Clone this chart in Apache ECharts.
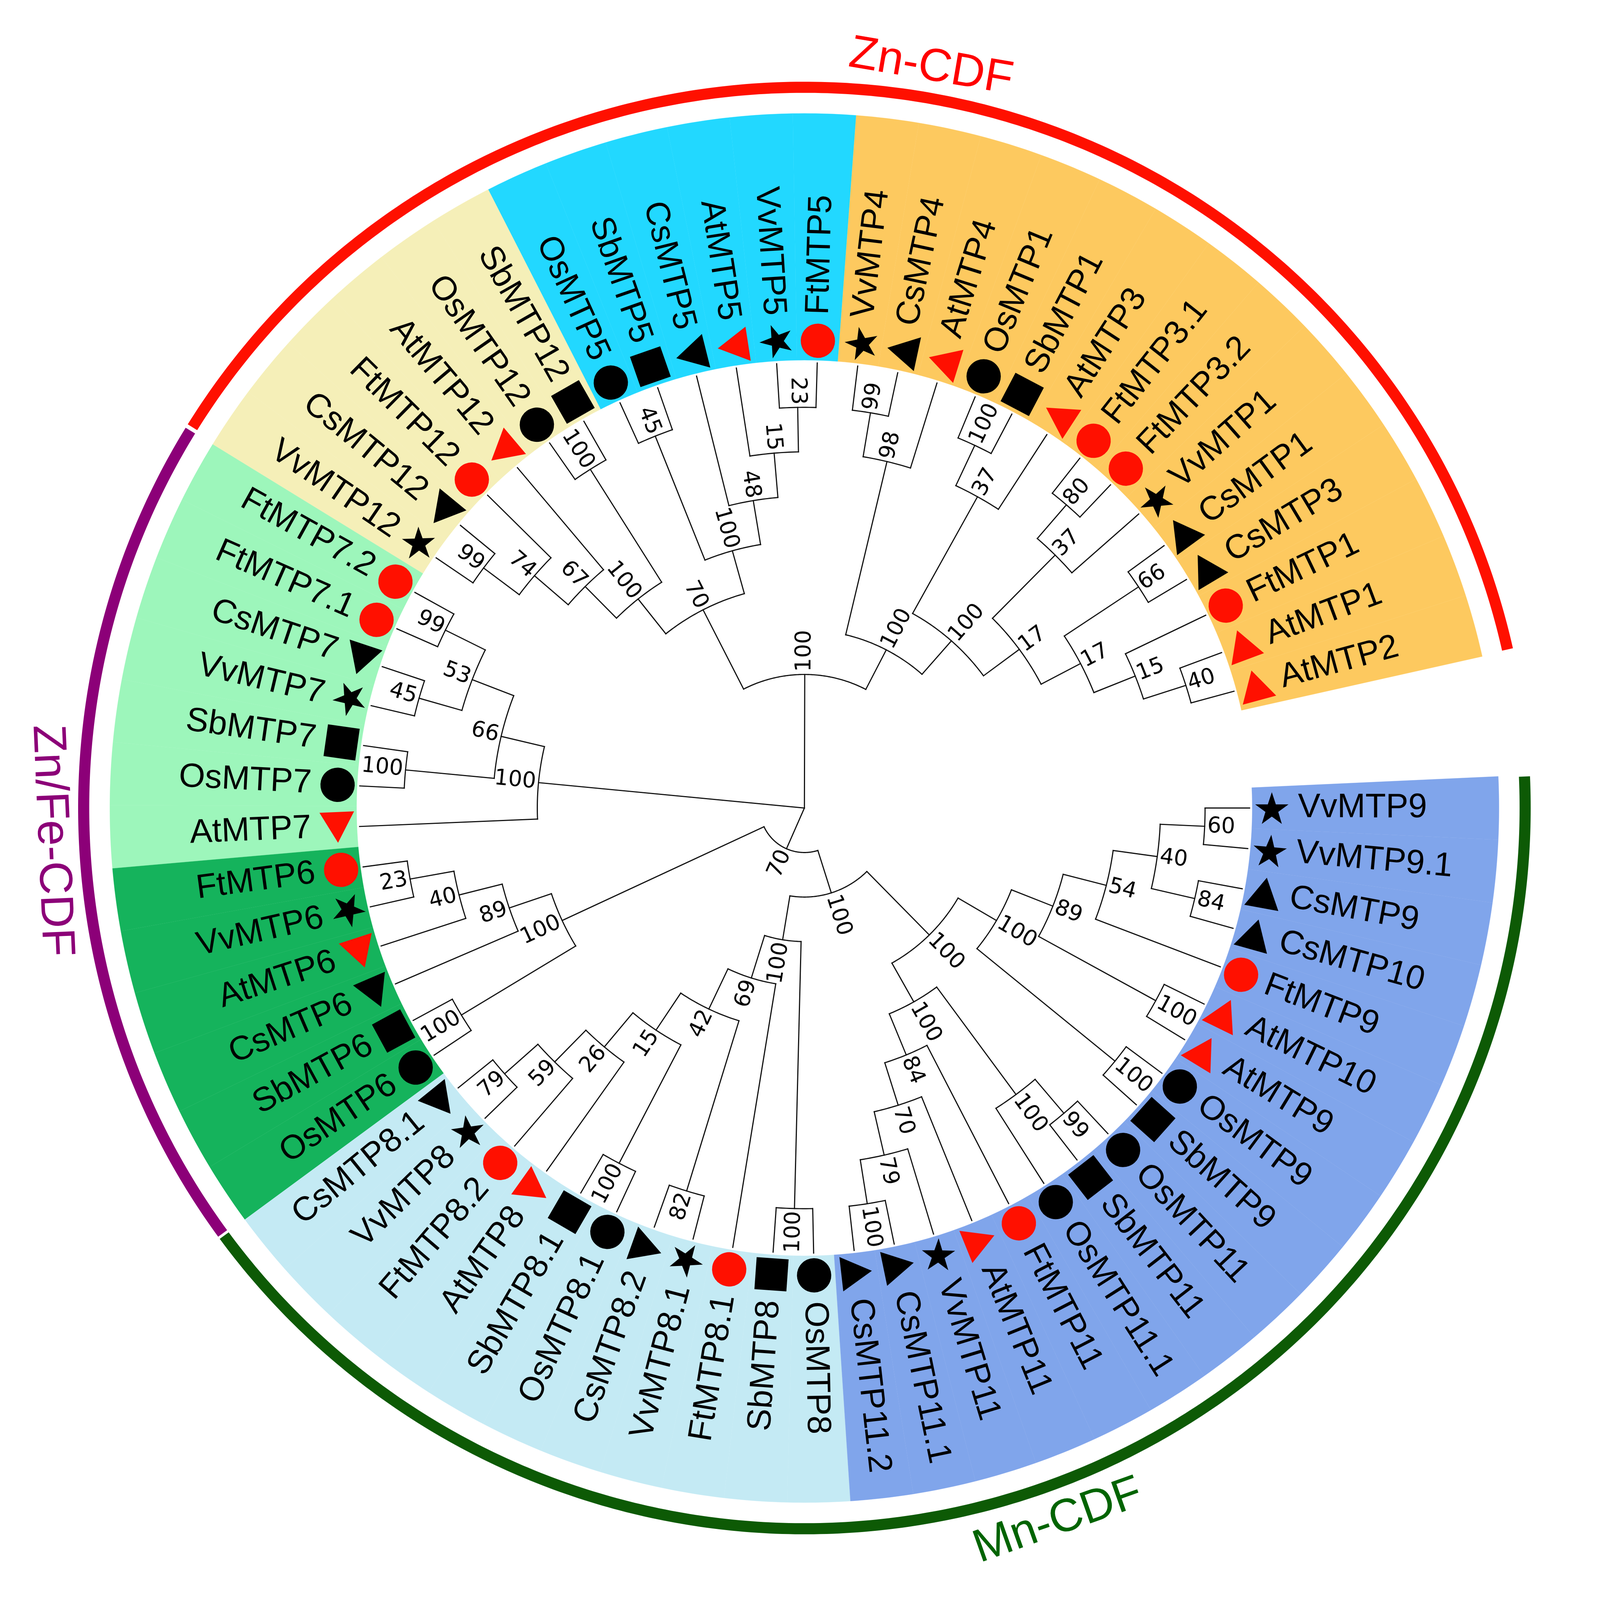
<!DOCTYPE html>
<html>
<head>
<meta charset="utf-8">
<title>MTP tree</title>
<style>
    html, body { margin: 0; padding: 0; background: #fff; width: 100%; height: 100%; overflow: hidden; }
    #chart { width: 100vw; height: 100vh; }
</style>
<script src="https://cdn.jsdelivr.net/npm/echarts@6/dist/echarts.min.js"></script>
</head>
<body>
<div id="chart"></div>
<script>
    // leaves, counted anticlockwise from AtMTP2
    var leafNames = [
        'AtMTP2', 'AtMTP1', 'FtMTP1', 'CsMTP3', 'CsMTP1', 'VvMTP1', 'FtMTP3.2', 'FtMTP3.1', 'AtMTP3', 'SbMTP1', 'OsMTP1', 'AtMTP4', 'CsMTP4', 'VvMTP4',
        'FtMTP5', 'VvMTP5', 'AtMTP5', 'CsMTP5', 'SbMTP5', 'OsMTP5',
        'SbMTP12', 'OsMTP12', 'AtMTP12', 'FtMTP12', 'CsMTP12', 'VvMTP12',
        'FtMTP7.2', 'FtMTP7.1', 'CsMTP7', 'VvMTP7', 'SbMTP7', 'OsMTP7', 'AtMTP7',
        'FtMTP6', 'VvMTP6', 'AtMTP6', 'CsMTP6', 'SbMTP6', 'OsMTP6',
        'CsMTP8.1', 'VvMTP8', 'FtMTP8.2', 'AtMTP8', 'SbMTP8.1', 'OsMTP8.1', 'CsMTP8.2', 'VvMTP8.1', 'FtMTP8.1', 'SbMTP8', 'OsMTP8',
        'CsMTP11.2', 'CsMTP11.1', 'VvMTP11', 'AtMTP11', 'FtMTP11', 'OsMTP11.1', 'SbMTP11', 'OsMTP11', 'SbMTP9', 'OsMTP9', 'AtMTP9', 'AtMTP10', 'FtMTP9', 'CsMTP10', 'CsMTP9', 'VvMTP9.1', 'VvMTP9'
    ];

    // first leaf of each coloured clade
    var cladeStarts = [0, 14, 20, 26, 33, 39, 50];
    var cladeColors = ['#FDC95F', '#22D8FF', '#F5EFB8', '#9DF6BB', '#15B35C', '#C4EAF4', '#80A5EB'];

    // outer family rings, in leaf positions
    var ringFrom = [-0.48, 25.50, 38.51];
    var ringTo = [25.44, 38.47, 66.48];
    var ringColors = ['#FF1000', '#8C0078', '#0D5A05'];

    // family titles
    var familyNames = ['Zn-CDF', 'Zn/Fe-CDF', 'Mn-CDF'];
    var familyPos = [12.46, 32.02, 52.52];
    var familyRadius = [2299, 2306, 2316];
    var familyColors = ['#FF0000', '#8C0078', '#006400'];

    // tree: [level, bootstrap, child, child...], a number child is a leaf index
    var cladeZn = [3, 100,
        [4, 100,
            [8, 98, 11, [9, 99, 12, 13]],
            [5, 100,
                [8, 37, 8, [9, 100, 9, 10]],
                [6, 17,
                    [8, 37, 5, [9, 80, 6, 7]],
                    [7, 17, [9, 66, 3, 4], [8, 15, 2, [9, 40, 0, 1]]]
                ]
            ]
        ],
        [5, 70,
            [6, 100,
                [7, 48, 17, [8, 15, 16, [9, 23, 14, 15]]],
                [9, 45, 18, 19]
            ],
            [6, 100,
                [9, 100, 20, 21],
                [7, 67, 22, [8, 74, 23, [9, 99, 24, 25]]]
            ]
        ]
    ];
    var cladeZnFe7 = [6, 100, 32,
        [7, 66,
            [9, 100, 30, 31],
            [8, 53, [9, 99, 26, 27], [9, 45, 28, 29]]
        ]
    ];
    var cladeMn = [1, 70,
        [6, 100,
            [7, 89, 36, [8, 40, 35, [9, 23, 33, 34]]],
            [9, 100, 37, 38]
        ],
        [2, 100,
            [3, 100,
                [9, 100, 48, 49],
                [4, 69, 47,
                    [5, 42,
                        [9, 82, 45, 46],
                        [6, 15,
                            [9, 100, 43, 44],
                            [7, 26, 42, [8, 59, 41, [9, 79, 39, 40]]]
                        ]
                    ]
                ]
            ],
            [4, 100,
                [5, 100,
                    [6, 89,
                        [7, 54, 62, [8, 40, [9, 60, 65, 66], [9, 84, 63, 64]]],
                        [9, 100, 60, 61]
                    ],
                    [9, 100, 58, 59]
                ],
                [5, 100,
                    [8, 100, 55, [9, 99, 56, 57]],
                    [6, 84, 54, [7, 70, 53, [8, 79, 52, [9, 100, 50, 51]]]]
                ]
            ]
        ]
    ];
    var treeRoot = [0, null, cladeZn, cladeZnFe7, cladeMn];

    // marker per species prefix
    var speciesCodes = ['Ft', 'Vv', 'At', 'Cs', 'Sb', 'Os'];
    var speciesSymbols = ['circle', 'star', 'triangle', 'triangle', 'rect', 'circle'];
    var speciesColors = ['#FF1000', '#000', '#FF1000', '#000', '#000', '#000'];

    // everything below was measured on the 4895 wide picture, S fits it to the window
    var S = Math.min(window.innerWidth / 4895, window.innerHeight / 4875);

    var STAR = 'path://M50 0 L61.8 35.1 L98.9 35.1 L68.8 56.7 L79.4 91 L50 70 L20.6 91 L31.2 56.7 L1.1 35.1 L38.2 35.1 Z';
    var symbolSizes = { circle: [105, 105], star: [102, 97], triangle: [106, 94], rect: [98, 98] };

    var startClock = 77.4;   // clock angle of the edge of leaf 0
    var leafStep = 5.224;    // degrees per leaf
    var levelStep = 136.2;   // units per tree level
    var tipLevel = 10;
    var sectorInner = 1370, sectorOuter = 2125;
    var ringInner = 2188, ringOuter = 2222;
    var markerRadius = 1430;
    var labelRadius = 1510;

    function px(v) { return v * S; }

    // flatten the tree to line pieces and bootstrap labels
    var branches = [], supports = [];
    function walk(node, parentR) {
        if (typeof node === 'number') {
            branches.push([parentR, node, tipLevel * levelStep, node]);
            return node;
        }
        var r = node[0] * levelStep, kids = node.slice(2), pos = [];
        for (var i = 0; i < kids.length; i++) pos.push(walk(kids[i], r));
        var lo = Math.min.apply(null, pos), hi = Math.max.apply(null, pos);
        var mid = (lo + hi) / 2;
        if (node[0] > 0) {
            branches.push([r, lo, r, hi]);
            branches.push([parentR, mid, r, mid]);
            supports.push([r, mid, node[1]]);
        }
        return mid;
    }
    walk(treeRoot, 0);

    // clock angle of a point, from the axis itself
    function clockOf(api, p, a) {
        var c = api.coord([0, a]);
        return Math.atan2(p[0] - c[0], c[1] - p[1]) * 180 / Math.PI;
    }

    // radial text, reads outward on the right half and inward on the left
    function radialText(api, r, a, text, font, gap) {
        var p = api.coord([r + gap, a]);
        var deg = clockOf(api, p, a);
        if (deg < 0) deg += 360;
        var right = deg < 180;
        return {
            type: 'text',
            x: p[0], y: p[1],
            rotation: (right ? 90 - deg : 270 - deg) * Math.PI / 180,
            style: { text: String(text), font: font, fill: '#000', align: right ? 'left' : 'right', verticalAlign: 'middle' }
        };
    }

    function band(api, r0, r1, a0, a1, color, seam) {
        var pts = [], n = Math.max(2, Math.ceil(Math.abs(a1 - a0) * leafStep * 2)), i;
        for (i = 0; i <= n; i++) pts.push(api.coord([r1, a0 + (a1 - a0) * i / n]));
        for (i = n; i >= 0; i--) pts.push(api.coord([r0, a0 + (a1 - a0) * i / n]));
        return { type: 'polygon', shape: { points: pts }, style: { fill: color, stroke: seam ? color : null, lineWidth: seam ? seam : 0 } };
    }

    function cladeOf(i) {
        var c = 0;
        for (var k = 0; k < cladeStarts.length; k++) if (i >= cladeStarts[k]) c = k;
        return c;
    }

    var series = [];

    series.push({
        type: 'custom', coordinateSystem: 'polar', silent: true, z: 1,
        data: leafNames.map(function (n, i) { return [sectorOuter, i]; }),
        renderItem: function (params, api) {
            var i = api.value(1);
            return band(api, sectorInner, sectorOuter, i - 0.5, i + 0.5, cladeColors[cladeOf(i)], 0.4);
        }
    });

    series.push({
        type: 'custom', coordinateSystem: 'polar', silent: true, z: 1,
        data: ringFrom.map(function (f, i) { return [ringOuter, f, ringTo[i]]; }),
        renderItem: function (params, api) {
            return band(api, ringInner, ringOuter, api.value(1), api.value(2), ringColors[params.dataIndex]);
        }
    });

    series.push({
        type: 'custom', coordinateSystem: 'polar', silent: true, z: 2,
        data: branches,
        renderItem: function (params, api) {
            var r0 = api.value(0), a0 = api.value(1), r1 = api.value(2), a1 = api.value(3);
            var n = a0 === a1 ? 1 : Math.ceil(Math.abs(a1 - a0) * leafStep * 2), pts = [];
            for (var i = 0; i <= n; i++) pts.push(api.coord([r0 + (r1 - r0) * i / n, a0 + (a1 - a0) * i / n]));
            return { type: 'polyline', shape: { points: pts }, style: { stroke: '#111', lineWidth: px(3.5), fill: 'none', lineCap: 'square' } };
        }
    });

    series.push({
        type: 'custom', coordinateSystem: 'polar', silent: true, z: 3,
        data: supports,
        renderItem: function (params, api) {
            return radialText(api, api.value(0), api.value(1), supports[params.dataIndex][2], px(67) + 'px "DejaVu Sans"', 8);
        }
    });

    speciesCodes.forEach(function (code, s) {
        var sym = speciesSymbols[s], pts = [];
        leafNames.forEach(function (n, i) {
            if (n.indexOf(code) !== 0) return;
            var clock = startClock - leafStep * (i + 0.5);
            pts.push({ value: [markerRadius, i], symbolRotate: 90 - clock });
        });
        series.push({
            type: 'scatter', coordinateSystem: 'polar', name: code, silent: true, z: 4,
            symbol: sym === 'star' ? STAR : sym,
            symbolSize: [px(symbolSizes[sym][0]), px(symbolSizes[sym][1])],
            symbolKeepAspect: false,
            itemStyle: { color: speciesColors[s], opacity: 1 },
            data: pts
        });
    });

    series.push({
        type: 'custom', coordinateSystem: 'polar', silent: true, z: 5,
        data: leafNames.map(function (n, i) { return [labelRadius, i]; }),
        renderItem: function (params, api) {
            return radialText(api, api.value(0), api.value(1), leafNames[params.dataIndex], px(103) + 'px "Liberation Sans"', 0);
        }
    });

    series.push({
        type: 'custom', coordinateSystem: 'polar', silent: true, z: 5,
        data: familyPos.map(function (a, i) { return [familyRadius[i], a]; }),
        renderItem: function (params, api) {
            var a = api.value(1), p = api.coord([api.value(0), a]);
            var deg = clockOf(api, p, a);
            if (deg < 0) deg += 360;
            var rot = (deg < 90 || deg > 270) ? -deg : 180 - deg;
            return {
                type: 'text', x: p[0], y: p[1], rotation: rot * Math.PI / 180,
                style: { text: familyNames[params.dataIndex], font: px(142) + 'px "Liberation Sans"', fill: familyColors[params.dataIndex], align: 'center', verticalAlign: 'middle' }
            };
        }
    });

    var chart = echarts.init(document.getElementById('chart'));
    chart.setOption({
        animation: false,
        backgroundColor: '#fff',
        polar: { center: [px(2461), px(2472)], radius: px(2400) },
        angleAxis: {
            type: 'value',
            min: -0.5,
            max: -0.5 + 360 / leafStep,
            startAngle: 90 - startClock,
            clockwise: false,
            axisLine: { show: false }, axisTick: { show: false }, axisLabel: { show: false }, splitLine: { show: false }
        },
        radiusAxis: {
            type: 'value',
            min: 0,
            max: 2400,
            axisLine: { show: false }, axisTick: { show: false }, axisLabel: { show: false }, splitLine: { show: false }
        },
        series: series
    });
</script>
</body>
</html>
